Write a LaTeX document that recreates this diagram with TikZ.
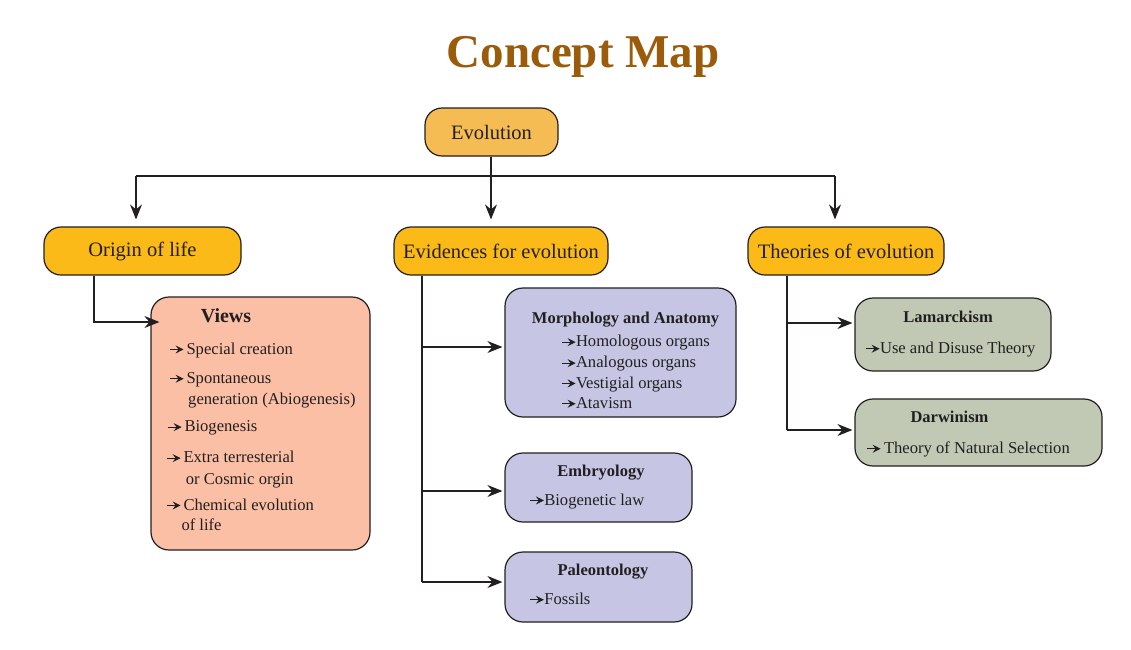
\documentclass[tikz,border=0pt]{standalone}
\usepackage{fontspec}
\setmainfont{Liberation Serif}
\usetikzlibrary{arrows.meta,positioning}

\definecolor{titlebrown}{HTML}{9A5C0A}
\definecolor{evofill}{HTML}{F4BC52}
\definecolor{headfill}{HTML}{FBBA17}
\definecolor{viewfill}{HTML}{FBBFA6}
\definecolor{evidfill}{HTML}{C6C6E4}
\definecolor{theofill}{HTML}{C1C9B4}
\definecolor{ink}{HTML}{231F20}

\newcommand{\pointer}{\tikz[baseline=-0.6ex]\draw[ink,line width=0.8pt,-{Stealth[length=8pt,width=8pt,inset=3pt]}] (0pt,0pt) -- (14pt,0pt);}

\tikzset{
  headbox/.style={draw=ink,line width=1.2pt,rounded corners=17pt,inner sep=0pt,
    text=ink,font=\fontsize{20.5}{24}\selectfont},
  listbox/.style={draw=ink,line width=1.2pt,rounded corners=18pt,inner sep=0pt},
  boxtitle/.style={anchor=base,inner sep=0pt,text=ink,font=\fontsize{16.5}{20}\selectfont\bfseries},
  entry/.style={anchor=base west,inner sep=0pt,text=ink,font=\fontsize{16.6}{20}\selectfont},
  wire/.style={ink,line width=1.2pt},
  link/.style={wire,-{Stealth[length=15pt,width=12pt,inset=5pt]}}
}

\begin{document}
\begin{tikzpicture}[x=1pt,y=-1pt]
\useasboundingbox (0,0) rectangle (1131,649);

% title
\node[text=titlebrown,font=\fontsize{47}{50}\selectfont\bfseries] (title) at (583,57) {Concept Map};

% main boxes
\node[headbox,fill=evofill,minimum width=133pt,minimum height=48pt] (evo) at (491.5,132) {Evolution};
\node[headbox,fill=headfill,minimum width=197pt,minimum height=48pt] (origin) at (142.5,251) {Origin of life};
\node[headbox,fill=headfill,minimum width=214pt,minimum height=48pt] (evid) at (501,251) {Evidences for evolution};
\node[headbox,fill=headfill,minimum width=196pt,minimum height=48pt] (theo) at (846,251) {Theories of evolution};

% branch from Evolution
\coordinate (hub) at (491,176);
\coordinate (hubL) at (136,176);
\coordinate (hubR) at (835,176);
\draw[wire] (evo.south -| hub) -- (hub);
\draw[wire] (hubL) -- (hubR);
\draw[link,shorten >=7pt] (hubL) -- (hubL |- origin.north);
\draw[link,shorten >=7pt] (hub) -- (hub |- evid.north);
\draw[link,shorten >=7pt] (hubR) -- (hubR |- theo.north);

% Origin of life
\node[listbox,fill=viewfill,minimum width=219pt,minimum height=253pt] (views) at (260.5,423.5) {};
\coordinate (oturn) at (94,322);
\draw[link,shorten >=-9pt] (origin.south -| oturn) -- (oturn) -- (oturn -| views.west);
\node[boxtitle,font=\fontsize{20}{24}\selectfont\bfseries] (vtitle) at (226,322.7) {Views};
\node[entry] (v1) at (169,354) {\pointer\hspace{2.5pt}Special creation};
\node[entry] (v2) at (169,383.3) {\pointer\hspace{2.5pt}Spontaneous};
\node[entry] (v2b) at (188,404.5) {generation (Abiogenesis)};
\node[entry] (v3) at (167,431.7) {\pointer\hspace{2.5pt}Biogenesis};
\node[entry] (v4) at (166,462.7) {\pointer\hspace{2.5pt}Extra terresterial};
\node[entry] (v4b) at (185.7,484.3) {or Cosmic orgin};
\node[entry] (v5) at (166,510) {\pointer\hspace{2.5pt}Chemical evolution};
\node[entry] (v5b) at (181.3,530) {of life};

% Evidences for evolution
\node[listbox,fill=evidfill,minimum width=231pt,minimum height=129pt] (morph) at (620.5,352.5) {};
\node[listbox,fill=evidfill,minimum width=187pt,minimum height=69pt] (embryo) at (598.5,487.5) {};
\node[listbox,fill=evidfill,minimum width=187pt,minimum height=70pt] (paleo) at (598.5,587) {};
\coordinate (emorph) at (422,347);
\coordinate (eembryo) at (422,491);
\coordinate (epaleo) at (422,582);
\draw[wire] (evid.south -| epaleo) -- (epaleo);
\draw[link,shorten >=2pt] (emorph) -- (emorph -| morph.west);
\draw[link,shorten >=2pt] (eembryo) -- (eembryo -| embryo.west);
\draw[link,shorten >=2pt] (epaleo) -- (epaleo -| paleo.west);

\node[boxtitle] (mtitle) at (625.5,323.3) {Morphology and Anatomy};
\node[entry] (m1) at (561,346.7) {\pointer Homologous organs};
\node[entry] (m2) at (561,367.7) {\pointer Analogous organs};
\node[entry] (m3) at (561,388) {\pointer Vestigial organs};
\node[entry] (m4) at (561,408.3) {\pointer Atavism};
\node[boxtitle] (etitle) at (601,476.7) {Embryology};
\node[entry] (e1) at (529.3,505) {\pointer Biogenetic law};
\node[boxtitle] (ptitle) at (603,575) {Paleontology};
\node[entry] (p1) at (529.3,604.3) {\pointer Fossils};

% Theories of evolution
\node[listbox,fill=theofill,minimum width=196pt,minimum height=73pt] (lamarck) at (953,334.5) {};
\node[listbox,fill=theofill,minimum width=247pt,minimum height=67pt] (darwin) at (978.5,432.5) {};
\coordinate (tlam) at (787,323);
\coordinate (tdar) at (787,430);
\draw[wire] (theo.south -| tdar) -- (tdar);
\draw[link,shorten >=2pt] (tlam) -- (tlam -| lamarck.west);
\draw[link,shorten >=2pt] (tdar) -- (tdar -| darwin.west);

\node[boxtitle] (ltitle) at (948,322.3) {Lamarckism};
\node[entry] (l1) at (865,353.3) {\pointer Use and Disuse Theory};
\node[boxtitle] (dtitle) at (949.5,422.7) {Darwinism};
\node[entry] (d1) at (866,453.3) {\pointer\hspace{3pt}Theory of Natural Selection};
\end{tikzpicture}
\end{document}
